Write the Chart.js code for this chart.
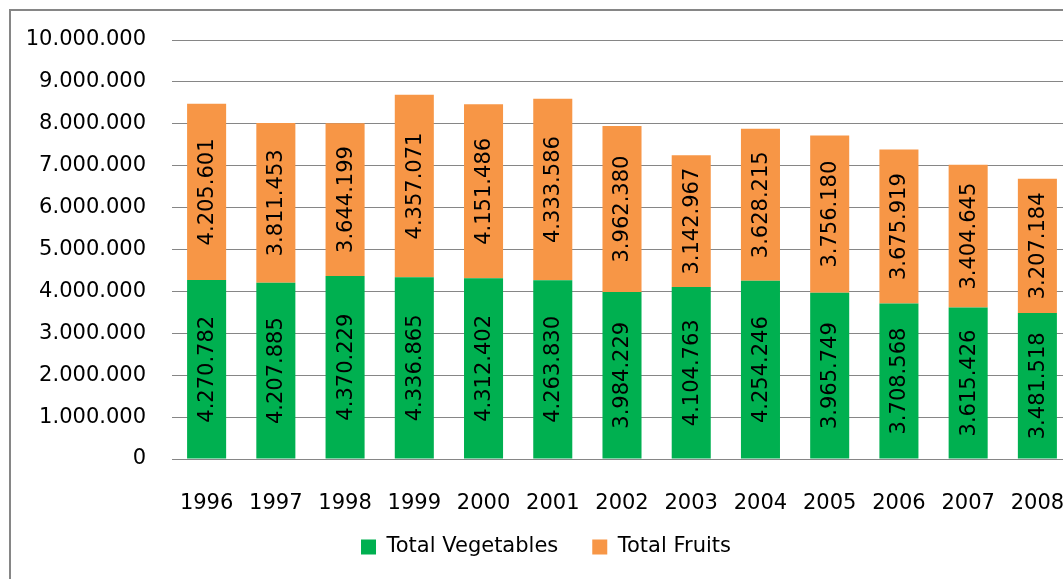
<!DOCTYPE html>
<html>
<head>
<meta charset="utf-8">
<script src="https://cdn.jsdelivr.net/npm/chart.js@4/dist/chart.umd.min.js"></script>
<style>
html,body{margin:0;padding:0;background:#fff;overflow:hidden;width:1063px;height:579px;}
#wrap{position:absolute;left:0;top:0;width:1090px;height:600px;}
#frame{position:absolute;left:9px;top:9px;width:1100px;height:620px;border:2px solid #868686;pointer-events:none;}
canvas{position:absolute;left:0;top:0;}
</style>
</head>
<body>
<div id="wrap"><canvas id="c" width="1090" height="600"></canvas></div>
<div id="frame"></div>
<script>
const years = ['1996','1997','1998','1999','2000','2001','2002','2003','2004','2005','2006','2007','2008'];
const vegetables = [4270782,4207885,4370229,4336865,4312402,4263830,3984229,4104763,4254246,3965749,3708568,3615426,3481518];
const fruits = [4205601,3811453,3644199,4357071,4151486,4333586,3962380,3142967,3628215,3756180,3675919,3404645,3207184];
const seriesNames = ['Total Vegetables','Total Fruits'];
const yMin = 0, yMax = 10000000, yStep = 1000000;

const fmt = n => String(n).replace(/\B(?=(\d{3})+(?!\d))/g, '.');
const FONT = 'DejaVu Sans';

const barLabels = {
  id: 'barLabels',
  afterDatasetsDraw(chart) {
    const ctx = chart.ctx;
    ctx.save();
    ctx.font = '21px "' + FONT + '"';
    ctx.fillStyle = '#000';
    ctx.textAlign = 'center';
    ctx.textBaseline = 'middle';
    chart.data.datasets.forEach((ds, di) => {
      const meta = chart.getDatasetMeta(di);
      meta.data.forEach((el, i) => {
        const cy = (el.y + el.base) / 2;
        ctx.save();
        ctx.translate(el.x, cy);
        ctx.rotate(-Math.PI / 2);
        ctx.fillText(fmt(ds.data[i]), 0, 1);
        ctx.restore();
      });
    });
    ctx.restore();
  }
};

// let the x tick labels extend below the axis box (avoid clipping)
const unclipX = {
  id: 'unclipX',
  afterLayout(chart) { chart.scales.x.bottom += 20; }
};

new Chart(document.getElementById('c'), {
  type: 'bar',
  data: {
    labels: years,
    datasets: [
      { label: seriesNames[0], data: vegetables, backgroundColor: '#00B050', borderWidth: 0 },
      { label: seriesNames[1], data: fruits, backgroundColor: '#F79646', borderWidth: 0 }
    ]
  },
  options: {
    responsive: false,
    animation: false,
    devicePixelRatio: 1,
    layout: { padding: { top: 40, left: 20, right: 18, bottom: 32.5 } },
    datasets: { bar: { categoryPercentage: 1, barPercentage: 0.564 } },
    plugins: {
      legend: {
        position: 'bottom',
        labels: {
          boxWidth: 15, boxHeight: 15, padding: 34,
          color: '#000',
          font: { family: FONT, size: 21 }
        }
      },
      tooltip: { enabled: false }
    },
    scales: {
      x: {
        stacked: true,
        grid: { display: false },
        border: { display: false },
        ticks: { color: '#000', font: { family: FONT, size: 21 }, padding: 24, maxRotation: 0, autoSkip: false },
        afterFit: s => { s.height = 43.5; }
      },
      y: {
        stacked: true,
        min: yMin, max: yMax,
        ticks: { stepSize: yStep, color: '#000', font: { family: FONT, size: 21 }, padding: 26, callback: v => fmt(v) },
        grid: { color: '#868686', lineWidth: 1, drawTicks: false },
        border: { display: false },
        afterFit: s => { s.width = 152; }
      }
    }
  },
  plugins: [barLabels, unclipX]
});
</script>
</body>
</html>
